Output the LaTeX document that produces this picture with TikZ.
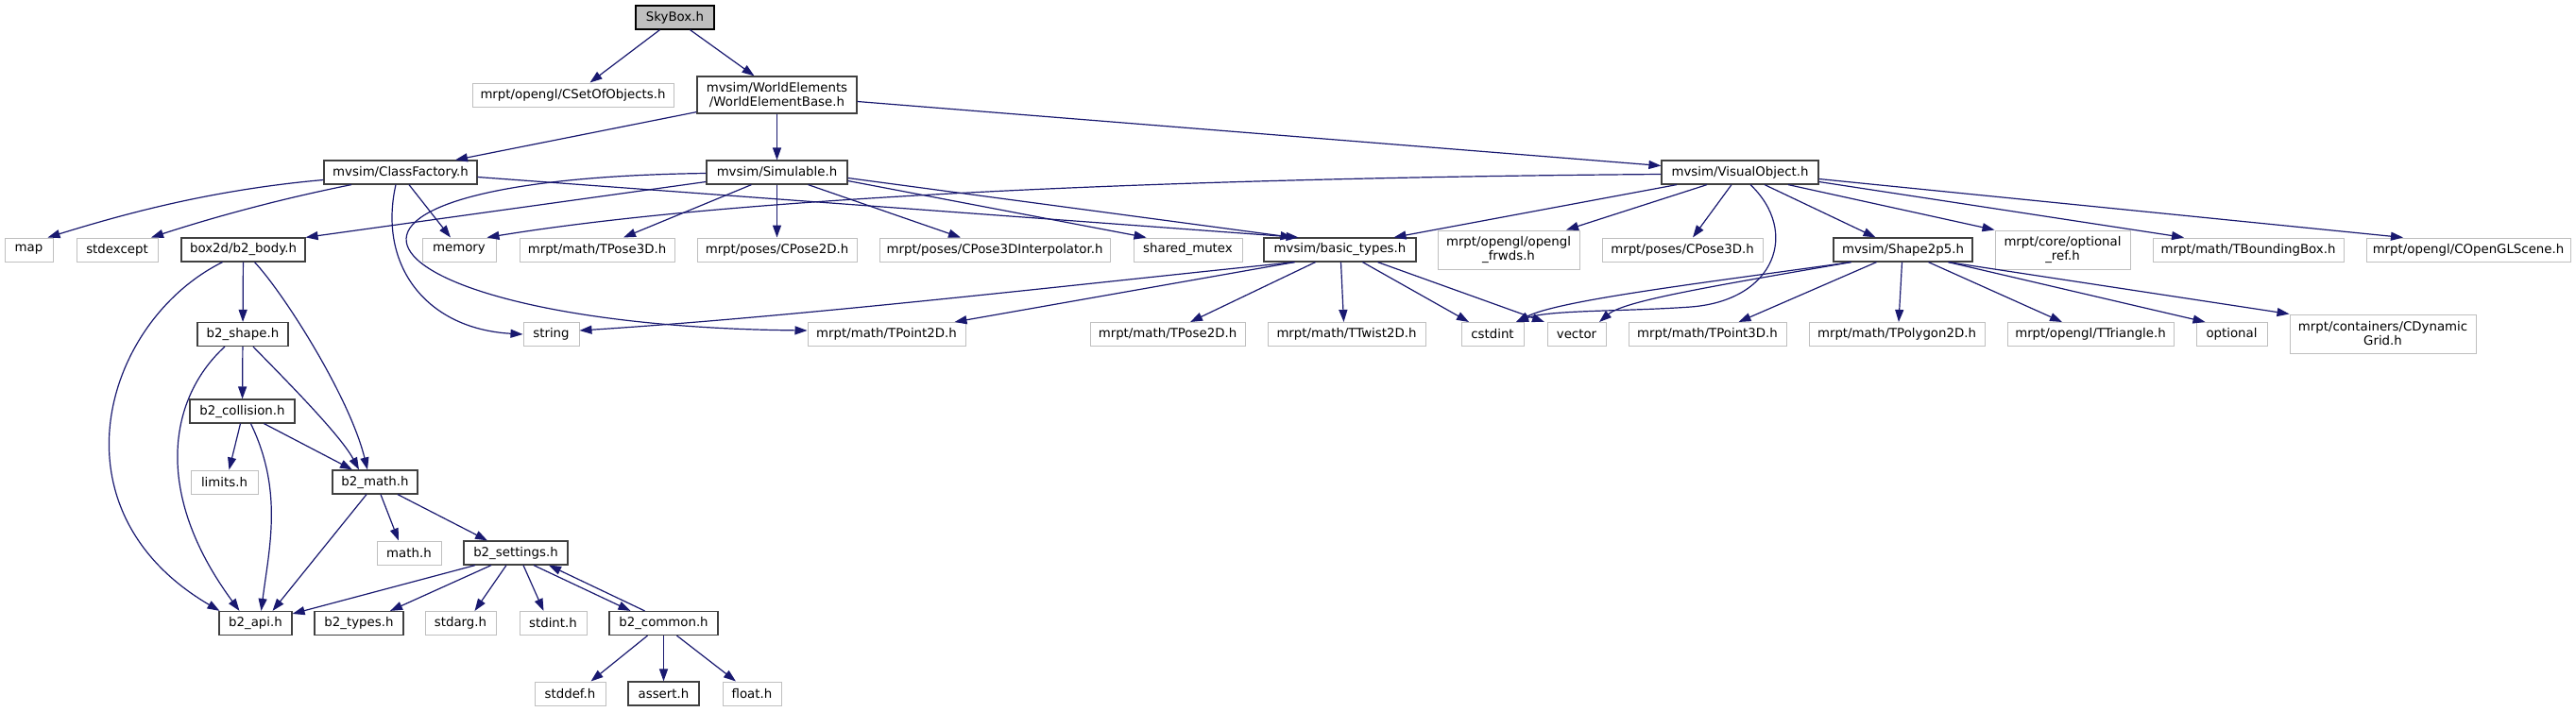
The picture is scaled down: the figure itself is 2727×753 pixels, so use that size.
\documentclass[tikz,border=0pt]{standalone}
\usepackage{fontspec}
\setmainfont{DejaVu Sans}
\usetikzlibrary{arrows.meta}
\definecolor{edgeblue}{HTML}{191970}
\definecolor{extgrey}{HTML}{BFBFBF}
\definecolor{docgrey}{HTML}{404040}

\begin{document}
\begin{tikzpicture}[
	x=1pt, y=-1pt,
	every node/.style={rectangle, inner sep=0pt, minimum height=25pt, align=center, fill=white, font=\fontsize{13.33}{15}\selectfont},
	doc/.style={draw=docgrey, line width=1.2pt},
	ext/.style={draw=extgrey, line width=1pt},
	tall/.style={minimum height=41pt},
	incl/.style={draw=edgeblue, line width=1.2pt, -{Triangle[length=13pt,width=9pt]}}
	]
	\path[fill=white, use as bounding box] (0,0) rectangle (2727,753);

	% top
	\node[doc, fill=extgrey, draw=black, minimum width=83pt] (skybox) at (714.5,18.5) {SkyBox.h};
	\node[ext, minimum width=213pt] (cset) at (606.5,100.5) {mrpt/opengl/CSetOfObjects.h};
	\node[doc, minimum width=169pt, minimum height=39pt] (webase) at (822.5,100.5) {mvsim/WorldElements\\/WorldElementBase.h};
	\node[doc, minimum width=162pt] (clsfac) at (424,182.5) {mvsim/ClassFactory.h};
	\node[doc, minimum width=149pt] (simul) at (822.5,182.5) {mvsim/Simulable.h};
	\node[doc, minimum width=166pt] (visobj) at (1842,182.5) {mvsim/VisualObject.h};

	% row 3
	\node[ext, minimum width=51pt] (map) at (30.5,264.5) {map};
	\node[ext, minimum width=86pt] (stdexc) at (124,264.5) {stdexcept};
	\node[doc, minimum width=131pt] (body) at (257.5,264.5) {box2d/b2\_body.h};
	\node[ext, minimum width=78pt] (memory) at (486,264.5) {memory};
	\node[ext, minimum width=164pt] (tpose3d) at (632,264.5) {mrpt/math/TPose3D.h};
	\node[ext, minimum width=169pt] (cpose2d) at (822.5,264.5) {mrpt/poses/CPose2D.h};
	\node[ext, minimum width=244pt] (cpinterp) at (1053,264.5) {mrpt/poses/CPose3DInterpolator.h};
	\node[ext, minimum width=115pt] (shmutex) at (1257.5,264.5) {shared\_mutex};
	\node[doc, minimum width=161pt] (basictypes) at (1418.5,264.5) {mvsim/basic\_types.h};
	\node[ext, tall, minimum width=150pt] (frwds) at (1597,264.5) {mrpt/opengl/opengl\\\_frwds.h};
	\node[ext, minimum width=170pt] (cpose3d) at (1781,264.5) {mrpt/poses/CPose3D.h};
	\node[doc, minimum width=147pt] (shape25) at (2014.5,264.5) {mvsim/Shape2p5.h};
	\node[ext, tall, minimum width=143pt] (optref) at (2183.5,264.5) {mrpt/core/optional\\\_ref.h};
	\node[ext, minimum width=202pt] (tbbox) at (2380,264.5) {mrpt/math/TBoundingBox.h};
	\node[ext, minimum width=216pt] (oglscene) at (2613,264.5) {mrpt/opengl/COpenGLScene.h};

	% row 4
	\node[doc, minimum width=96pt] (shape) at (257,354) {b2\_shape.h};
	\node[ext, minimum width=59pt] (string) at (583.5,354) {string};
	\node[ext, minimum width=167pt] (tpoint2d) at (938.5,354) {mrpt/math/TPoint2D.h};
	\node[ext, minimum width=164pt] (tpose2d) at (1236,354) {mrpt/math/TPose2D.h};
	\node[ext, minimum width=167pt] (ttwist) at (1425.5,354) {mrpt/math/TTwist2D.h};
	\node[ext, minimum width=66pt] (cstdint) at (1580,354) {cstdint};
	\node[ext, minimum width=62pt] (vector) at (1669,354) {vector};
	\node[ext, minimum width=167pt] (tpoint3d) at (1807.5,354) {mrpt/math/TPoint3D.h};
	\node[ext, minimum width=186pt] (tpoly) at (2008,354) {mrpt/math/TPolygon2D.h};
	\node[ext, minimum width=176pt] (ttri) at (2213,354) {mrpt/opengl/TTriangle.h};
	\node[ext, minimum width=75pt] (optional) at (2362.5,354) {optional};
	\node[ext, tall, minimum width=197pt] (dyngrid) at (2522.5,353.5) {mrpt/containers/CDynamic\\Grid.h};

	% box2d part
	\node[doc, minimum width=111pt] (collision) at (256.5,435.5) {b2\_collision.h};
	\node[ext, minimum width=71pt] (limits) at (237.5,510.5) {limits.h};
	\node[doc, minimum width=90pt] (b2math) at (397,510.5) {b2\_math.h};
	\node[ext, minimum width=68pt] (mathh) at (433,585.5) {math.h};
	\node[doc, minimum width=110pt] (settings) at (546,585.5) {b2\_settings.h};
	\node[doc, minimum width=77pt] (api) at (270.5,660) {b2\_api.h};
	\node[doc, minimum width=94pt] (types) at (380,660) {b2\_types.h};
	\node[ext, minimum width=75pt] (stdarg) at (487.5,660) {stdarg.h};
	\node[ext, minimum width=71pt] (stdint) at (585.5,660) {stdint.h};
	\node[doc, minimum width=115pt] (common) at (702.5,660) {b2\_common.h};
	\node[ext, minimum width=75pt] (stddef) at (603.5,734.5) {stddef.h};
	\node[doc, minimum width=75pt] (assert) at (702.5,734.5) {assert.h};
	\node[ext, minimum width=62pt] (float) at (796,734.5) {float.h};

	% SkyBox.h and WorldElementBase.h
	\draw[incl] ([xshift=-16pt]skybox.south) -- ([xshift=18pt]cset.north);
	\draw[incl] ([xshift=16pt]skybox.south) -- ([xshift=-24pt]webase.north);
	\draw[incl] ([yshift=2pt]webase.south west) -- ([xshift=58pt]clsfac.north);
	\draw[incl] (webase) -- (simul);
	\draw[incl] ([yshift=-7pt]webase.east) -- ([yshift=7pt]visobj.west);

	% ClassFactory.h
	\draw[incl] ([yshift=-8pt]clsfac.west) .. controls (223,201) and (130,227) .. ([xshift=20pt]map.north);
	\draw[incl] ([xshift=-52pt]clsfac.south) .. controls (290,212) and (220,232) .. ([xshift=36pt]stdexc.north);
	\draw[incl] ([xshift=9pt]clsfac.south) -- ([xshift=-9pt]memory.north);
	\draw[incl] ([xshift=-5pt]clsfac.south) .. controls (400,280) and (450,348) .. (string.west);
	\draw[incl] ([yshift=-5pt]clsfac.east) -- ([xshift=-44pt]basictypes.north);

	% Simulable.h
	\draw[incl] ([yshift=-10pt]simul.west) -- (body.north east);
	\draw[incl] ([yshift=-1pt]simul.west) .. controls (250,190) and (380,345) .. ([yshift=4pt]tpoint2d.west);
	\draw[incl] ([xshift=-27pt]simul.south) -- ([xshift=28pt]tpose3d.north);
	\draw[incl] (simul) -- (cpose2d);
	\draw[incl] ([xshift=33pt]simul.south) -- ([xshift=-36pt]cpinterp.north);
	\draw[incl] ([yshift=-9pt]simul.east) -- ([xshift=-44pt]shmutex.north);
	\draw[incl] ([yshift=-6pt]simul.east) -- ([xshift=-50pt]basictypes.north);

	% VisualObject.h
	\draw[incl] ([yshift=-2pt]visobj.west) .. controls (1300,188) and (800,205) .. ([xshift=-10pt]memory.north east);
	\draw[incl] ([xshift=-67pt]visobj.south) -- ([xshift=57pt]basictypes.north);
	\draw[incl] ([xshift=-35pt]visobj.south) -- ([xshift=61pt]frwds.north);
	\draw[incl] ([xshift=-9pt]visobj.south) -- ([xshift=11pt]cpose3d.north);
	\draw[incl] ([xshift=11pt]visobj.south) .. controls (1905,245) and (1880,318) .. (1790,325)
		.. controls (1720,330) and (1640,328) .. ([xshift=25pt]cstdint.north);
	\draw[incl] ([xshift=26pt]visobj.south) -- ([xshift=-29pt]shape25.north);
	\draw[incl] ([xshift=51pt]visobj.south) -- (optref.north west);
	\draw[incl] ([yshift=-10pt]visobj.east) -- ([xshift=-68pt]tbbox.north);
	\draw[incl] ([yshift=-7pt]visobj.east) -- ([xshift=-69pt]oglscene.north);

	% basic_types.h
	\draw[incl] ([xshift=-48pt]basictypes.south) .. controls (1150,300) and (850,335) .. ([yshift=4pt]string.east);
	\draw[incl] ([xshift=-48pt]basictypes.south) -- ([xshift=72pt]tpoint2d.north);
	\draw[incl] ([xshift=-26pt]basictypes.south) -- ([xshift=24pt]tpose2d.north);
	\draw[incl] ([xshift=1pt]basictypes.south) -- ([xshift=-3pt]ttwist.north);
	\draw[incl] ([xshift=24pt]basictypes.south) -- ([xshift=-25pt]cstdint.north);
	\draw[incl] ([xshift=40pt]basictypes.south) -- ([xshift=-34pt]vector.north);

	% Shape2p5.h
	\draw[incl] ([xshift=-55pt]shape25.south) .. controls (1800,300) and (1650,318) .. ([xshift=25pt]cstdint.north);
	\draw[incl] ([xshift=-55pt]shape25.south) .. controls (1820,302) and (1720,318) .. ([xshift=24pt]vector.north);
	\draw[incl] ([xshift=-28pt]shape25.south) -- ([xshift=33pt]tpoint3d.north);
	\draw[incl] ([xshift=-1pt]shape25.south) -- ([xshift=2pt]tpoly.north);
	\draw[incl] ([xshift=27pt]shape25.south) -- ([xshift=-30pt]ttri.north);
	\draw[incl] ([xshift=48pt]shape25.south) -- ([xshift=-28pt]optional.north);
	\draw[incl] ([xshift=48pt]shape25.south) -- (dyngrid.north west);

	% box2d
	\draw[incl] (body) -- (shape);
	\draw[incl] ([xshift=12pt]body.south) .. controls (300,310) and (370,420) .. ([xshift=-8pt]b2math.north);
	\draw[incl] ([xshift=-22pt]body.south) .. controls (110,340) and (50,540) .. ([xshift=-38pt]api.north);
	\draw[incl] (shape) -- (collision);
	\draw[incl] ([xshift=11pt]shape.south) .. controls (300,400) and (360,460) .. ([xshift=-17pt]b2math.north);
	\draw[incl] ([xshift=-19pt]shape.south) .. controls (180,420) and (160,520) .. ([xshift=-17pt]api.north);
	\draw[incl] ([xshift=-2pt]collision.south) -- ([xshift=5pt]limits.north);
	\draw[incl] ([xshift=23pt]collision.south) -- ([xshift=-24pt]b2math.north);
	\draw[incl] ([xshift=9pt]collision.south) .. controls (300,520) and (285,580) .. ([xshift=6pt]api.north);
	\draw[incl] ([xshift=-9pt]b2math.south) -- ([xshift=18pt]api.north);
	\draw[incl] ([xshift=6pt]b2math.south) -- ([xshift=-11pt]mathh.north);
	\draw[incl] ([xshift=24pt]b2math.south) -- ([xshift=-30pt]settings.north);
	\draw[incl] ([xshift=-43pt]settings.south) -- ([yshift=10pt]api.east);
	\draw[incl] ([xshift=-26pt]settings.south) -- ([xshift=33pt]types.north);
	\draw[incl] ([xshift=-10pt]settings.south) -- ([xshift=15pt]stdarg.north);
	\draw[incl] ([xshift=8pt]settings.south) -- ([xshift=-10pt]stdint.north);
	\draw[incl] ([xshift=19pt]settings.south) -- ([xshift=-35pt]common.north);
	\draw[incl] ([xshift=-20pt]common.north) -- ([xshift=35pt]settings.south);
	\draw[incl] ([xshift=-17pt]common.south) -- ([xshift=22pt]stddef.north);
	\draw[incl] (common) -- (assert);
	\draw[incl] ([xshift=14pt]common.south) -- ([xshift=-17pt]float.north);
\end{tikzpicture}
\end{document}
